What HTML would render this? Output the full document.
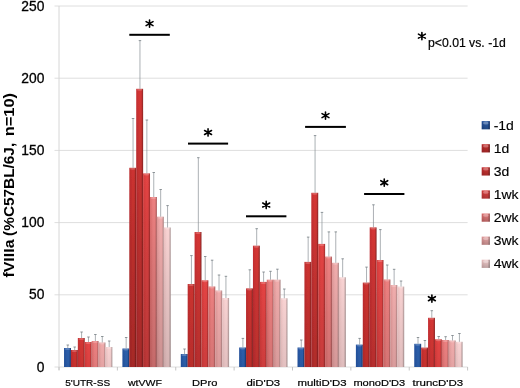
<!DOCTYPE html><html><head><meta charset="utf-8"><title>chart</title>
<style>html,body{margin:0;padding:0;background:#fff;}svg{display:block;font-family:"Liberation Sans",sans-serif;}</style></head><body>
<svg width="520" height="388" viewBox="0 0 520 388">
<defs>
<linearGradient id="gb" x1="0" y1="0" x2="1" y2="0"><stop offset="0" stop-color="#22509c"/><stop offset="0.45" stop-color="#2c5eaa"/><stop offset="0.72" stop-color="#2c5eaa"/><stop offset="1" stop-color="#15346c"/></linearGradient>
<linearGradient id="gr1" x1="0" y1="0" x2="1" y2="0"><stop offset="0" stop-color="#bc2c2e"/><stop offset="0.45" stop-color="#cc3230"/><stop offset="0.72" stop-color="#cc3230"/><stop offset="1" stop-color="#80201e"/></linearGradient>
<linearGradient id="gr2" x1="0" y1="0" x2="1" y2="0"><stop offset="0" stop-color="#c42e32"/><stop offset="0.45" stop-color="#d43634"/><stop offset="0.72" stop-color="#d43634"/><stop offset="1" stop-color="#8a2424"/></linearGradient>
<linearGradient id="gr3" x1="0" y1="0" x2="1" y2="0"><stop offset="0" stop-color="#d43a3a"/><stop offset="0.45" stop-color="#e44444"/><stop offset="0.72" stop-color="#e44444"/><stop offset="1" stop-color="#9c2c2c"/></linearGradient>
<linearGradient id="gr4" x1="0" y1="0" x2="1" y2="0"><stop offset="0" stop-color="#dc6c6c"/><stop offset="0.45" stop-color="#ec8080"/><stop offset="0.72" stop-color="#ec8080"/><stop offset="1" stop-color="#a45858"/></linearGradient>
<linearGradient id="gr5" x1="0" y1="0" x2="1" y2="0"><stop offset="0" stop-color="#e09898"/><stop offset="0.45" stop-color="#f0acac"/><stop offset="0.72" stop-color="#f0acac"/><stop offset="1" stop-color="#a88080"/></linearGradient>
<linearGradient id="gr6" x1="0" y1="0" x2="1" y2="0"><stop offset="0" stop-color="#ecc2c2"/><stop offset="0.45" stop-color="#f8d2d2"/><stop offset="0.72" stop-color="#f8d2d2"/><stop offset="1" stop-color="#a89292"/></linearGradient>
<linearGradient id="ov" x1="0" y1="0" x2="0" y2="1"><stop offset="0" stop-color="#000" stop-opacity="0"/><stop offset="0.4" stop-color="#000" stop-opacity="0.09"/><stop offset="1" stop-color="#000" stop-opacity="0.21"/></linearGradient>
<linearGradient id="ov2" x1="0" y1="0" x2="0" y2="1"><stop offset="0" stop-color="#000" stop-opacity="0.04"/><stop offset="1" stop-color="#000" stop-opacity="0.24"/></linearGradient>
<filter id="bl" x="-5%" y="-5%" width="110%" height="110%"><feGaussianBlur stdDeviation="0.35"/></filter>
</defs>
<rect width="520" height="388" fill="#fff"/>
<g filter="url(#bl)">
<line x1="54.5" y1="367.00" x2="467.6" y2="367.00" stroke="#dedede" stroke-width="1"/>
<line x1="54.5" y1="294.80" x2="467.6" y2="294.80" stroke="#dedede" stroke-width="1"/>
<line x1="54.5" y1="222.60" x2="467.6" y2="222.60" stroke="#dedede" stroke-width="1"/>
<line x1="54.5" y1="150.40" x2="467.6" y2="150.40" stroke="#dedede" stroke-width="1"/>
<line x1="54.5" y1="78.20" x2="467.6" y2="78.20" stroke="#dedede" stroke-width="1"/>
<line x1="54.5" y1="6.00" x2="467.6" y2="6.00" stroke="#dedede" stroke-width="1"/>
<line x1="59.0" y1="6.0" x2="59.0" y2="370.0" stroke="#d6d6d6" stroke-width="1"/>
<line x1="59.00" y1="367.0" x2="59.00" y2="370.5" stroke="#c4c4c4" stroke-width="1"/>
<line x1="117.37" y1="367.0" x2="117.37" y2="370.5" stroke="#c4c4c4" stroke-width="1"/>
<line x1="175.74" y1="367.0" x2="175.74" y2="370.5" stroke="#c4c4c4" stroke-width="1"/>
<line x1="234.11" y1="367.0" x2="234.11" y2="370.5" stroke="#c4c4c4" stroke-width="1"/>
<line x1="292.49" y1="367.0" x2="292.49" y2="370.5" stroke="#c4c4c4" stroke-width="1"/>
<line x1="350.86" y1="367.0" x2="350.86" y2="370.5" stroke="#c4c4c4" stroke-width="1"/>
<line x1="409.23" y1="367.0" x2="409.23" y2="370.5" stroke="#c4c4c4" stroke-width="1"/>
<line x1="467.60" y1="367.0" x2="467.60" y2="370.5" stroke="#c4c4c4" stroke-width="1"/>
<rect x="64.04" y="348.00" width="6.9" height="19.00" fill="url(#gb)"/>
<linearGradient id="o00" x1="0" y1="0" x2="0" y2="1"><stop offset="0" stop-color="#000" stop-opacity="0"/><stop offset="0.4" stop-color="#000" stop-opacity="0.021"/><stop offset="1" stop-color="#000" stop-opacity="0.046"/></linearGradient>
<rect x="64.04" y="348.00" width="6.9" height="19.00" fill="url(#o00)"/>
<ellipse cx="67.49" cy="349.00" rx="2.85" ry="1.0" fill="#fff" fill-opacity="0.22"/>
<rect x="70.94" y="350.00" width="6.9" height="17.00" fill="url(#gr1)"/>
<linearGradient id="o01" x1="0" y1="0" x2="0" y2="1"><stop offset="0" stop-color="#000" stop-opacity="0"/><stop offset="0.4" stop-color="#000" stop-opacity="0.020"/><stop offset="1" stop-color="#000" stop-opacity="0.044"/></linearGradient>
<rect x="70.94" y="350.00" width="6.9" height="17.00" fill="url(#o01)"/>
<ellipse cx="74.39" cy="351.00" rx="2.85" ry="1.0" fill="#fff" fill-opacity="0.22"/>
<rect x="77.84" y="338.00" width="6.9" height="29.00" fill="url(#gr2)"/>
<linearGradient id="o02" x1="0" y1="0" x2="0" y2="1"><stop offset="0" stop-color="#000" stop-opacity="0"/><stop offset="0.4" stop-color="#000" stop-opacity="0.024"/><stop offset="1" stop-color="#000" stop-opacity="0.054"/></linearGradient>
<rect x="77.84" y="338.00" width="6.9" height="29.00" fill="url(#o02)"/>
<ellipse cx="81.29" cy="339.00" rx="2.85" ry="1.0" fill="#fff" fill-opacity="0.22"/>
<rect x="84.74" y="342.00" width="6.9" height="25.00" fill="url(#gr3)"/>
<linearGradient id="o03" x1="0" y1="0" x2="0" y2="1"><stop offset="0" stop-color="#000" stop-opacity="0"/><stop offset="0.4" stop-color="#000" stop-opacity="0.023"/><stop offset="1" stop-color="#000" stop-opacity="0.051"/></linearGradient>
<rect x="84.74" y="342.00" width="6.9" height="25.00" fill="url(#o03)"/>
<ellipse cx="88.19" cy="343.00" rx="2.85" ry="1.0" fill="#fff" fill-opacity="0.22"/>
<rect x="91.64" y="341.00" width="6.9" height="26.00" fill="url(#gr4)"/>
<linearGradient id="o04" x1="0" y1="0" x2="0" y2="1"><stop offset="0" stop-color="#000" stop-opacity="0"/><stop offset="0.4" stop-color="#000" stop-opacity="0.023"/><stop offset="1" stop-color="#000" stop-opacity="0.051"/></linearGradient>
<rect x="91.64" y="341.00" width="6.9" height="26.00" fill="url(#o04)"/>
<ellipse cx="95.09" cy="342.00" rx="2.85" ry="1.0" fill="#fff" fill-opacity="0.22"/>
<rect x="98.54" y="342.50" width="6.9" height="24.50" fill="url(#gr5)"/>
<linearGradient id="o05" x1="0" y1="0" x2="0" y2="1"><stop offset="0" stop-color="#000" stop-opacity="0"/><stop offset="0.4" stop-color="#000" stop-opacity="0.023"/><stop offset="1" stop-color="#000" stop-opacity="0.050"/></linearGradient>
<rect x="98.54" y="342.50" width="6.9" height="24.50" fill="url(#o05)"/>
<ellipse cx="101.99" cy="343.50" rx="2.85" ry="1.0" fill="#fff" fill-opacity="0.22"/>
<rect x="105.44" y="347.00" width="6.9" height="20.00" fill="url(#gr6)"/>
<linearGradient id="o06" x1="0" y1="0" x2="0" y2="1"><stop offset="0" stop-color="#000" stop-opacity="0"/><stop offset="0.4" stop-color="#000" stop-opacity="0.021"/><stop offset="1" stop-color="#000" stop-opacity="0.047"/></linearGradient>
<rect x="105.44" y="347.00" width="6.9" height="20.00" fill="url(#o06)"/>
<ellipse cx="108.89" cy="348.00" rx="2.85" ry="1.0" fill="#fff" fill-opacity="0.22"/>
<path d="M67.79 348.00V345.00" stroke="#7e878d" stroke-width="0.65" fill="none"/><path d="M66.54 345.00H69.04" stroke="#6e777c" stroke-width="0.75" fill="none"/>
<path d="M74.69 350.00V347.00" stroke="#7e878d" stroke-width="0.65" fill="none"/><path d="M73.44 347.00H75.94" stroke="#6e777c" stroke-width="0.75" fill="none"/>
<path d="M81.59 338.00V332.00" stroke="#7e878d" stroke-width="0.65" fill="none"/><path d="M80.34 332.00H82.84" stroke="#6e777c" stroke-width="0.75" fill="none"/>
<path d="M88.49 342.00V337.00" stroke="#7e878d" stroke-width="0.65" fill="none"/><path d="M87.24 337.00H89.74" stroke="#6e777c" stroke-width="0.75" fill="none"/>
<path d="M95.39 341.00V334.50" stroke="#7e878d" stroke-width="0.65" fill="none"/><path d="M94.14 334.50H96.64" stroke="#6e777c" stroke-width="0.75" fill="none"/>
<path d="M102.29 342.50V336.50" stroke="#7e878d" stroke-width="0.65" fill="none"/><path d="M101.04 336.50H103.54" stroke="#6e777c" stroke-width="0.75" fill="none"/>
<path d="M109.19 347.00V341.00" stroke="#7e878d" stroke-width="0.65" fill="none"/><path d="M107.94 341.00H110.44" stroke="#6e777c" stroke-width="0.75" fill="none"/>
<rect x="122.41" y="348.50" width="6.9" height="18.50" fill="url(#gb)"/>
<linearGradient id="o10" x1="0" y1="0" x2="0" y2="1"><stop offset="0" stop-color="#000" stop-opacity="0"/><stop offset="0.4" stop-color="#000" stop-opacity="0.020"/><stop offset="1" stop-color="#000" stop-opacity="0.045"/></linearGradient>
<rect x="122.41" y="348.50" width="6.9" height="18.50" fill="url(#o10)"/>
<ellipse cx="125.86" cy="349.50" rx="2.85" ry="1.0" fill="#fff" fill-opacity="0.22"/>
<rect x="129.31" y="167.80" width="6.9" height="199.20" fill="url(#gr1)"/>
<linearGradient id="o11" x1="0" y1="0" x2="0" y2="1"><stop offset="0" stop-color="#000" stop-opacity="0"/><stop offset="0.4" stop-color="#000" stop-opacity="0.088"/><stop offset="1" stop-color="#000" stop-opacity="0.195"/></linearGradient>
<rect x="129.31" y="167.80" width="6.9" height="199.20" fill="url(#o11)"/>
<ellipse cx="132.76" cy="168.80" rx="2.85" ry="1.0" fill="#fff" fill-opacity="0.22"/>
<rect x="136.21" y="88.80" width="6.9" height="278.20" fill="url(#gr2)"/>
<linearGradient id="o12" x1="0" y1="0" x2="0" y2="1"><stop offset="0" stop-color="#000" stop-opacity="0"/><stop offset="0.4" stop-color="#000" stop-opacity="0.099"/><stop offset="1" stop-color="#000" stop-opacity="0.220"/></linearGradient>
<rect x="136.21" y="88.80" width="6.9" height="278.20" fill="url(#o12)"/>
<ellipse cx="139.66" cy="89.80" rx="2.85" ry="1.0" fill="#fff" fill-opacity="0.22"/>
<rect x="143.11" y="173.40" width="6.9" height="193.60" fill="url(#gr3)"/>
<linearGradient id="o13" x1="0" y1="0" x2="0" y2="1"><stop offset="0" stop-color="#000" stop-opacity="0"/><stop offset="0.4" stop-color="#000" stop-opacity="0.085"/><stop offset="1" stop-color="#000" stop-opacity="0.190"/></linearGradient>
<rect x="143.11" y="173.40" width="6.9" height="193.60" fill="url(#o13)"/>
<ellipse cx="146.56" cy="174.40" rx="2.85" ry="1.0" fill="#fff" fill-opacity="0.22"/>
<rect x="150.01" y="197.00" width="6.9" height="170.00" fill="url(#gr4)"/>
<linearGradient id="o14" x1="0" y1="0" x2="0" y2="1"><stop offset="0" stop-color="#000" stop-opacity="0"/><stop offset="0.4" stop-color="#000" stop-opacity="0.077"/><stop offset="1" stop-color="#000" stop-opacity="0.170"/></linearGradient>
<rect x="150.01" y="197.00" width="6.9" height="170.00" fill="url(#o14)"/>
<ellipse cx="153.46" cy="198.00" rx="2.85" ry="1.0" fill="#fff" fill-opacity="0.22"/>
<rect x="156.91" y="216.70" width="6.9" height="150.30" fill="url(#gr5)"/>
<linearGradient id="o15" x1="0" y1="0" x2="0" y2="1"><stop offset="0" stop-color="#000" stop-opacity="0"/><stop offset="0.4" stop-color="#000" stop-opacity="0.069"/><stop offset="1" stop-color="#000" stop-opacity="0.154"/></linearGradient>
<rect x="156.91" y="216.70" width="6.9" height="150.30" fill="url(#o15)"/>
<ellipse cx="160.36" cy="217.70" rx="2.85" ry="1.0" fill="#fff" fill-opacity="0.22"/>
<rect x="163.81" y="227.50" width="6.9" height="139.50" fill="url(#gr6)"/>
<linearGradient id="o16" x1="0" y1="0" x2="0" y2="1"><stop offset="0" stop-color="#000" stop-opacity="0"/><stop offset="0.4" stop-color="#000" stop-opacity="0.065"/><stop offset="1" stop-color="#000" stop-opacity="0.145"/></linearGradient>
<rect x="163.81" y="227.50" width="6.9" height="139.50" fill="url(#o16)"/>
<ellipse cx="167.26" cy="228.50" rx="2.85" ry="1.0" fill="#fff" fill-opacity="0.22"/>
<path d="M126.16 348.50V337.50" stroke="#7e878d" stroke-width="0.65" fill="none"/><path d="M124.91 337.50H127.41" stroke="#6e777c" stroke-width="0.75" fill="none"/>
<path d="M133.06 167.80V118.50" stroke="#7e878d" stroke-width="0.65" fill="none"/><path d="M131.81 118.50H134.31" stroke="#6e777c" stroke-width="0.75" fill="none"/>
<path d="M139.96 88.80V40.60" stroke="#7e878d" stroke-width="0.65" fill="none"/><path d="M138.71 40.60H141.21" stroke="#6e777c" stroke-width="0.75" fill="none"/>
<path d="M146.86 173.40V120.00" stroke="#7e878d" stroke-width="0.65" fill="none"/><path d="M145.61 120.00H148.11" stroke="#6e777c" stroke-width="0.75" fill="none"/>
<path d="M153.76 197.00V172.50" stroke="#7e878d" stroke-width="0.65" fill="none"/><path d="M152.51 172.50H155.01" stroke="#6e777c" stroke-width="0.75" fill="none"/>
<path d="M160.66 216.70V189.50" stroke="#7e878d" stroke-width="0.65" fill="none"/><path d="M159.41 189.50H161.91" stroke="#6e777c" stroke-width="0.75" fill="none"/>
<path d="M167.56 227.50V205.60" stroke="#7e878d" stroke-width="0.65" fill="none"/><path d="M166.31 205.60H168.81" stroke="#6e777c" stroke-width="0.75" fill="none"/>
<rect x="180.78" y="354.00" width="6.9" height="13.00" fill="url(#gb)"/>
<linearGradient id="o20" x1="0" y1="0" x2="0" y2="1"><stop offset="0" stop-color="#000" stop-opacity="0"/><stop offset="0.4" stop-color="#000" stop-opacity="0.018"/><stop offset="1" stop-color="#000" stop-opacity="0.041"/></linearGradient>
<rect x="180.78" y="354.00" width="6.9" height="13.00" fill="url(#o20)"/>
<ellipse cx="184.23" cy="355.00" rx="2.85" ry="1.0" fill="#fff" fill-opacity="0.22"/>
<rect x="187.68" y="284.00" width="6.9" height="83.00" fill="url(#gr1)"/>
<linearGradient id="o21" x1="0" y1="0" x2="0" y2="1"><stop offset="0" stop-color="#000" stop-opacity="0"/><stop offset="0.4" stop-color="#000" stop-opacity="0.044"/><stop offset="1" stop-color="#000" stop-opacity="0.099"/></linearGradient>
<rect x="187.68" y="284.00" width="6.9" height="83.00" fill="url(#o21)"/>
<ellipse cx="191.13" cy="285.00" rx="2.85" ry="1.0" fill="#fff" fill-opacity="0.22"/>
<rect x="194.58" y="232.00" width="6.9" height="135.00" fill="url(#gr2)"/>
<linearGradient id="o22" x1="0" y1="0" x2="0" y2="1"><stop offset="0" stop-color="#000" stop-opacity="0"/><stop offset="0.4" stop-color="#000" stop-opacity="0.064"/><stop offset="1" stop-color="#000" stop-opacity="0.142"/></linearGradient>
<rect x="194.58" y="232.00" width="6.9" height="135.00" fill="url(#o22)"/>
<ellipse cx="198.03" cy="233.00" rx="2.85" ry="1.0" fill="#fff" fill-opacity="0.22"/>
<rect x="201.48" y="280.30" width="6.9" height="86.70" fill="url(#gr3)"/>
<linearGradient id="o23" x1="0" y1="0" x2="0" y2="1"><stop offset="0" stop-color="#000" stop-opacity="0"/><stop offset="0.4" stop-color="#000" stop-opacity="0.046"/><stop offset="1" stop-color="#000" stop-opacity="0.102"/></linearGradient>
<rect x="201.48" y="280.30" width="6.9" height="86.70" fill="url(#o23)"/>
<ellipse cx="204.93" cy="281.30" rx="2.85" ry="1.0" fill="#fff" fill-opacity="0.22"/>
<rect x="208.38" y="286.50" width="6.9" height="80.50" fill="url(#gr4)"/>
<linearGradient id="o24" x1="0" y1="0" x2="0" y2="1"><stop offset="0" stop-color="#000" stop-opacity="0"/><stop offset="0.4" stop-color="#000" stop-opacity="0.043"/><stop offset="1" stop-color="#000" stop-opacity="0.096"/></linearGradient>
<rect x="208.38" y="286.50" width="6.9" height="80.50" fill="url(#o24)"/>
<ellipse cx="211.83" cy="287.50" rx="2.85" ry="1.0" fill="#fff" fill-opacity="0.22"/>
<rect x="215.28" y="290.50" width="6.9" height="76.50" fill="url(#gr5)"/>
<linearGradient id="o25" x1="0" y1="0" x2="0" y2="1"><stop offset="0" stop-color="#000" stop-opacity="0"/><stop offset="0.4" stop-color="#000" stop-opacity="0.042"/><stop offset="1" stop-color="#000" stop-opacity="0.093"/></linearGradient>
<rect x="215.28" y="290.50" width="6.9" height="76.50" fill="url(#o25)"/>
<ellipse cx="218.73" cy="291.50" rx="2.85" ry="1.0" fill="#fff" fill-opacity="0.22"/>
<rect x="222.18" y="298.00" width="6.9" height="69.00" fill="url(#gr6)"/>
<linearGradient id="o26" x1="0" y1="0" x2="0" y2="1"><stop offset="0" stop-color="#000" stop-opacity="0"/><stop offset="0.4" stop-color="#000" stop-opacity="0.039"/><stop offset="1" stop-color="#000" stop-opacity="0.087"/></linearGradient>
<rect x="222.18" y="298.00" width="6.9" height="69.00" fill="url(#o26)"/>
<ellipse cx="225.63" cy="299.00" rx="2.85" ry="1.0" fill="#fff" fill-opacity="0.22"/>
<path d="M184.53 354.00V349.00" stroke="#7e878d" stroke-width="0.65" fill="none"/><path d="M183.28 349.00H185.78" stroke="#6e777c" stroke-width="0.75" fill="none"/>
<path d="M191.43 284.00V255.60" stroke="#7e878d" stroke-width="0.65" fill="none"/><path d="M190.18 255.60H192.68" stroke="#6e777c" stroke-width="0.75" fill="none"/>
<path d="M198.33 232.00V157.70" stroke="#7e878d" stroke-width="0.65" fill="none"/><path d="M197.08 157.70H199.58" stroke="#6e777c" stroke-width="0.75" fill="none"/>
<path d="M205.23 280.30V256.50" stroke="#7e878d" stroke-width="0.65" fill="none"/><path d="M203.98 256.50H206.48" stroke="#6e777c" stroke-width="0.75" fill="none"/>
<path d="M212.13 286.50V260.20" stroke="#7e878d" stroke-width="0.65" fill="none"/><path d="M210.88 260.20H213.38" stroke="#6e777c" stroke-width="0.75" fill="none"/>
<path d="M219.03 290.50V275.00" stroke="#7e878d" stroke-width="0.65" fill="none"/><path d="M217.78 275.00H220.28" stroke="#6e777c" stroke-width="0.75" fill="none"/>
<path d="M225.93 298.00V276.30" stroke="#7e878d" stroke-width="0.65" fill="none"/><path d="M224.68 276.30H227.18" stroke="#6e777c" stroke-width="0.75" fill="none"/>
<rect x="239.15" y="347.50" width="6.9" height="19.50" fill="url(#gb)"/>
<linearGradient id="o30" x1="0" y1="0" x2="0" y2="1"><stop offset="0" stop-color="#000" stop-opacity="0"/><stop offset="0.4" stop-color="#000" stop-opacity="0.021"/><stop offset="1" stop-color="#000" stop-opacity="0.046"/></linearGradient>
<rect x="239.15" y="347.50" width="6.9" height="19.50" fill="url(#o30)"/>
<ellipse cx="242.60" cy="348.50" rx="2.85" ry="1.0" fill="#fff" fill-opacity="0.22"/>
<rect x="246.05" y="288.40" width="6.9" height="78.60" fill="url(#gr1)"/>
<linearGradient id="o31" x1="0" y1="0" x2="0" y2="1"><stop offset="0" stop-color="#000" stop-opacity="0"/><stop offset="0.4" stop-color="#000" stop-opacity="0.043"/><stop offset="1" stop-color="#000" stop-opacity="0.095"/></linearGradient>
<rect x="246.05" y="288.40" width="6.9" height="78.60" fill="url(#o31)"/>
<ellipse cx="249.50" cy="289.40" rx="2.85" ry="1.0" fill="#fff" fill-opacity="0.22"/>
<rect x="252.95" y="245.70" width="6.9" height="121.30" fill="url(#gr2)"/>
<linearGradient id="o32" x1="0" y1="0" x2="0" y2="1"><stop offset="0" stop-color="#000" stop-opacity="0"/><stop offset="0.4" stop-color="#000" stop-opacity="0.059"/><stop offset="1" stop-color="#000" stop-opacity="0.130"/></linearGradient>
<rect x="252.95" y="245.70" width="6.9" height="121.30" fill="url(#o32)"/>
<ellipse cx="256.40" cy="246.70" rx="2.85" ry="1.0" fill="#fff" fill-opacity="0.22"/>
<rect x="259.85" y="281.90" width="6.9" height="85.10" fill="url(#gr3)"/>
<linearGradient id="o33" x1="0" y1="0" x2="0" y2="1"><stop offset="0" stop-color="#000" stop-opacity="0"/><stop offset="0.4" stop-color="#000" stop-opacity="0.045"/><stop offset="1" stop-color="#000" stop-opacity="0.100"/></linearGradient>
<rect x="259.85" y="281.90" width="6.9" height="85.10" fill="url(#o33)"/>
<ellipse cx="263.30" cy="282.90" rx="2.85" ry="1.0" fill="#fff" fill-opacity="0.22"/>
<rect x="266.75" y="279.70" width="6.9" height="87.30" fill="url(#gr4)"/>
<linearGradient id="o34" x1="0" y1="0" x2="0" y2="1"><stop offset="0" stop-color="#000" stop-opacity="0"/><stop offset="0.4" stop-color="#000" stop-opacity="0.046"/><stop offset="1" stop-color="#000" stop-opacity="0.102"/></linearGradient>
<rect x="266.75" y="279.70" width="6.9" height="87.30" fill="url(#o34)"/>
<ellipse cx="270.20" cy="280.70" rx="2.85" ry="1.0" fill="#fff" fill-opacity="0.22"/>
<rect x="273.65" y="279.70" width="6.9" height="87.30" fill="url(#gr5)"/>
<linearGradient id="o35" x1="0" y1="0" x2="0" y2="1"><stop offset="0" stop-color="#000" stop-opacity="0"/><stop offset="0.4" stop-color="#000" stop-opacity="0.046"/><stop offset="1" stop-color="#000" stop-opacity="0.102"/></linearGradient>
<rect x="273.65" y="279.70" width="6.9" height="87.30" fill="url(#o35)"/>
<ellipse cx="277.10" cy="280.70" rx="2.85" ry="1.0" fill="#fff" fill-opacity="0.22"/>
<rect x="280.55" y="298.30" width="6.9" height="68.70" fill="url(#gr6)"/>
<linearGradient id="o36" x1="0" y1="0" x2="0" y2="1"><stop offset="0" stop-color="#000" stop-opacity="0"/><stop offset="0.4" stop-color="#000" stop-opacity="0.039"/><stop offset="1" stop-color="#000" stop-opacity="0.087"/></linearGradient>
<rect x="280.55" y="298.30" width="6.9" height="68.70" fill="url(#o36)"/>
<ellipse cx="284.00" cy="299.30" rx="2.85" ry="1.0" fill="#fff" fill-opacity="0.22"/>
<path d="M242.90 347.50V338.40" stroke="#7e878d" stroke-width="0.65" fill="none"/><path d="M241.65 338.40H244.15" stroke="#6e777c" stroke-width="0.75" fill="none"/>
<path d="M249.80 288.40V269.80" stroke="#7e878d" stroke-width="0.65" fill="none"/><path d="M248.55 269.80H251.05" stroke="#6e777c" stroke-width="0.75" fill="none"/>
<path d="M256.70 245.70V228.70" stroke="#7e878d" stroke-width="0.65" fill="none"/><path d="M255.45 228.70H257.95" stroke="#6e777c" stroke-width="0.75" fill="none"/>
<path d="M263.60 281.90V272.00" stroke="#7e878d" stroke-width="0.65" fill="none"/><path d="M262.35 272.00H264.85" stroke="#6e777c" stroke-width="0.75" fill="none"/>
<path d="M270.50 279.70V271.30" stroke="#7e878d" stroke-width="0.65" fill="none"/><path d="M269.25 271.30H271.75" stroke="#6e777c" stroke-width="0.75" fill="none"/>
<path d="M277.40 279.70V269.20" stroke="#7e878d" stroke-width="0.65" fill="none"/><path d="M276.15 269.20H278.65" stroke="#6e777c" stroke-width="0.75" fill="none"/>
<path d="M284.30 298.30V289.00" stroke="#7e878d" stroke-width="0.65" fill="none"/><path d="M283.05 289.00H285.55" stroke="#6e777c" stroke-width="0.75" fill="none"/>
<rect x="297.52" y="347.50" width="6.9" height="19.50" fill="url(#gb)"/>
<linearGradient id="o40" x1="0" y1="0" x2="0" y2="1"><stop offset="0" stop-color="#000" stop-opacity="0"/><stop offset="0.4" stop-color="#000" stop-opacity="0.021"/><stop offset="1" stop-color="#000" stop-opacity="0.046"/></linearGradient>
<rect x="297.52" y="347.50" width="6.9" height="19.50" fill="url(#o40)"/>
<ellipse cx="300.97" cy="348.50" rx="2.85" ry="1.0" fill="#fff" fill-opacity="0.22"/>
<rect x="304.42" y="261.90" width="6.9" height="105.10" fill="url(#gr1)"/>
<linearGradient id="o41" x1="0" y1="0" x2="0" y2="1"><stop offset="0" stop-color="#000" stop-opacity="0"/><stop offset="0.4" stop-color="#000" stop-opacity="0.053"/><stop offset="1" stop-color="#000" stop-opacity="0.117"/></linearGradient>
<rect x="304.42" y="261.90" width="6.9" height="105.10" fill="url(#o41)"/>
<ellipse cx="307.87" cy="262.90" rx="2.85" ry="1.0" fill="#fff" fill-opacity="0.22"/>
<rect x="311.32" y="192.80" width="6.9" height="174.20" fill="url(#gr2)"/>
<linearGradient id="o42" x1="0" y1="0" x2="0" y2="1"><stop offset="0" stop-color="#000" stop-opacity="0"/><stop offset="0.4" stop-color="#000" stop-opacity="0.078"/><stop offset="1" stop-color="#000" stop-opacity="0.174"/></linearGradient>
<rect x="311.32" y="192.80" width="6.9" height="174.20" fill="url(#o42)"/>
<ellipse cx="314.77" cy="193.80" rx="2.85" ry="1.0" fill="#fff" fill-opacity="0.22"/>
<rect x="318.22" y="243.90" width="6.9" height="123.10" fill="url(#gr3)"/>
<linearGradient id="o43" x1="0" y1="0" x2="0" y2="1"><stop offset="0" stop-color="#000" stop-opacity="0"/><stop offset="0.4" stop-color="#000" stop-opacity="0.059"/><stop offset="1" stop-color="#000" stop-opacity="0.132"/></linearGradient>
<rect x="318.22" y="243.90" width="6.9" height="123.10" fill="url(#o43)"/>
<ellipse cx="321.67" cy="244.90" rx="2.85" ry="1.0" fill="#fff" fill-opacity="0.22"/>
<rect x="325.12" y="256.60" width="6.9" height="110.40" fill="url(#gr4)"/>
<linearGradient id="o44" x1="0" y1="0" x2="0" y2="1"><stop offset="0" stop-color="#000" stop-opacity="0"/><stop offset="0.4" stop-color="#000" stop-opacity="0.055"/><stop offset="1" stop-color="#000" stop-opacity="0.121"/></linearGradient>
<rect x="325.12" y="256.60" width="6.9" height="110.40" fill="url(#o44)"/>
<ellipse cx="328.57" cy="257.60" rx="2.85" ry="1.0" fill="#fff" fill-opacity="0.22"/>
<rect x="332.02" y="262.80" width="6.9" height="104.20" fill="url(#gr5)"/>
<linearGradient id="o45" x1="0" y1="0" x2="0" y2="1"><stop offset="0" stop-color="#000" stop-opacity="0"/><stop offset="0.4" stop-color="#000" stop-opacity="0.052"/><stop offset="1" stop-color="#000" stop-opacity="0.116"/></linearGradient>
<rect x="332.02" y="262.80" width="6.9" height="104.20" fill="url(#o45)"/>
<ellipse cx="335.47" cy="263.80" rx="2.85" ry="1.0" fill="#fff" fill-opacity="0.22"/>
<rect x="338.92" y="277.30" width="6.9" height="89.70" fill="url(#gr6)"/>
<linearGradient id="o46" x1="0" y1="0" x2="0" y2="1"><stop offset="0" stop-color="#000" stop-opacity="0"/><stop offset="0.4" stop-color="#000" stop-opacity="0.047"/><stop offset="1" stop-color="#000" stop-opacity="0.104"/></linearGradient>
<rect x="338.92" y="277.30" width="6.9" height="89.70" fill="url(#o46)"/>
<ellipse cx="342.37" cy="278.30" rx="2.85" ry="1.0" fill="#fff" fill-opacity="0.22"/>
<path d="M301.27 347.50V340.00" stroke="#7e878d" stroke-width="0.65" fill="none"/><path d="M300.02 340.00H302.52" stroke="#6e777c" stroke-width="0.75" fill="none"/>
<path d="M308.17 261.90V237.10" stroke="#7e878d" stroke-width="0.65" fill="none"/><path d="M306.92 237.10H309.42" stroke="#6e777c" stroke-width="0.75" fill="none"/>
<path d="M315.07 192.80V135.60" stroke="#7e878d" stroke-width="0.65" fill="none"/><path d="M313.82 135.60H316.32" stroke="#6e777c" stroke-width="0.75" fill="none"/>
<path d="M321.97 243.90V212.40" stroke="#7e878d" stroke-width="0.65" fill="none"/><path d="M320.72 212.40H323.22" stroke="#6e777c" stroke-width="0.75" fill="none"/>
<path d="M328.87 256.60V231.90" stroke="#7e878d" stroke-width="0.65" fill="none"/><path d="M327.62 231.90H330.12" stroke="#6e777c" stroke-width="0.75" fill="none"/>
<path d="M335.77 262.80V231.90" stroke="#7e878d" stroke-width="0.65" fill="none"/><path d="M334.52 231.90H337.02" stroke="#6e777c" stroke-width="0.75" fill="none"/>
<path d="M342.67 277.30V258.80" stroke="#7e878d" stroke-width="0.65" fill="none"/><path d="M341.42 258.80H343.92" stroke="#6e777c" stroke-width="0.75" fill="none"/>
<rect x="355.89" y="344.60" width="6.9" height="22.40" fill="url(#gb)"/>
<linearGradient id="o50" x1="0" y1="0" x2="0" y2="1"><stop offset="0" stop-color="#000" stop-opacity="0"/><stop offset="0.4" stop-color="#000" stop-opacity="0.022"/><stop offset="1" stop-color="#000" stop-opacity="0.049"/></linearGradient>
<rect x="355.89" y="344.60" width="6.9" height="22.40" fill="url(#o50)"/>
<ellipse cx="359.34" cy="345.60" rx="2.85" ry="1.0" fill="#fff" fill-opacity="0.22"/>
<rect x="362.79" y="282.60" width="6.9" height="84.40" fill="url(#gr1)"/>
<linearGradient id="o51" x1="0" y1="0" x2="0" y2="1"><stop offset="0" stop-color="#000" stop-opacity="0"/><stop offset="0.4" stop-color="#000" stop-opacity="0.045"/><stop offset="1" stop-color="#000" stop-opacity="0.100"/></linearGradient>
<rect x="362.79" y="282.60" width="6.9" height="84.40" fill="url(#o51)"/>
<ellipse cx="366.24" cy="283.60" rx="2.85" ry="1.0" fill="#fff" fill-opacity="0.22"/>
<rect x="369.69" y="227.40" width="6.9" height="139.60" fill="url(#gr2)"/>
<linearGradient id="o52" x1="0" y1="0" x2="0" y2="1"><stop offset="0" stop-color="#000" stop-opacity="0"/><stop offset="0.4" stop-color="#000" stop-opacity="0.065"/><stop offset="1" stop-color="#000" stop-opacity="0.145"/></linearGradient>
<rect x="369.69" y="227.40" width="6.9" height="139.60" fill="url(#o52)"/>
<ellipse cx="373.14" cy="228.40" rx="2.85" ry="1.0" fill="#fff" fill-opacity="0.22"/>
<rect x="376.59" y="260.00" width="6.9" height="107.00" fill="url(#gr3)"/>
<linearGradient id="o53" x1="0" y1="0" x2="0" y2="1"><stop offset="0" stop-color="#000" stop-opacity="0"/><stop offset="0.4" stop-color="#000" stop-opacity="0.053"/><stop offset="1" stop-color="#000" stop-opacity="0.118"/></linearGradient>
<rect x="376.59" y="260.00" width="6.9" height="107.00" fill="url(#o53)"/>
<ellipse cx="380.04" cy="261.00" rx="2.85" ry="1.0" fill="#fff" fill-opacity="0.22"/>
<rect x="383.49" y="279.50" width="6.9" height="87.50" fill="url(#gr4)"/>
<linearGradient id="o54" x1="0" y1="0" x2="0" y2="1"><stop offset="0" stop-color="#000" stop-opacity="0"/><stop offset="0.4" stop-color="#000" stop-opacity="0.046"/><stop offset="1" stop-color="#000" stop-opacity="0.102"/></linearGradient>
<rect x="383.49" y="279.50" width="6.9" height="87.50" fill="url(#o54)"/>
<ellipse cx="386.94" cy="280.50" rx="2.85" ry="1.0" fill="#fff" fill-opacity="0.22"/>
<rect x="390.39" y="285.00" width="6.9" height="82.00" fill="url(#gr5)"/>
<linearGradient id="o55" x1="0" y1="0" x2="0" y2="1"><stop offset="0" stop-color="#000" stop-opacity="0"/><stop offset="0.4" stop-color="#000" stop-opacity="0.044"/><stop offset="1" stop-color="#000" stop-opacity="0.098"/></linearGradient>
<rect x="390.39" y="285.00" width="6.9" height="82.00" fill="url(#o55)"/>
<ellipse cx="393.84" cy="286.00" rx="2.85" ry="1.0" fill="#fff" fill-opacity="0.22"/>
<rect x="397.29" y="286.60" width="6.9" height="80.40" fill="url(#gr6)"/>
<linearGradient id="o56" x1="0" y1="0" x2="0" y2="1"><stop offset="0" stop-color="#000" stop-opacity="0"/><stop offset="0.4" stop-color="#000" stop-opacity="0.043"/><stop offset="1" stop-color="#000" stop-opacity="0.096"/></linearGradient>
<rect x="397.29" y="286.60" width="6.9" height="80.40" fill="url(#o56)"/>
<ellipse cx="400.74" cy="287.60" rx="2.85" ry="1.0" fill="#fff" fill-opacity="0.22"/>
<path d="M359.64 344.60V338.40" stroke="#7e878d" stroke-width="0.65" fill="none"/><path d="M358.39 338.40H360.89" stroke="#6e777c" stroke-width="0.75" fill="none"/>
<path d="M366.54 282.60V267.10" stroke="#7e878d" stroke-width="0.65" fill="none"/><path d="M365.29 267.10H367.79" stroke="#6e777c" stroke-width="0.75" fill="none"/>
<path d="M373.44 227.40V204.80" stroke="#7e878d" stroke-width="0.65" fill="none"/><path d="M372.19 204.80H374.69" stroke="#6e777c" stroke-width="0.75" fill="none"/>
<path d="M380.34 260.00V229.60" stroke="#7e878d" stroke-width="0.65" fill="none"/><path d="M379.09 229.60H381.59" stroke="#6e777c" stroke-width="0.75" fill="none"/>
<path d="M387.24 279.50V265.00" stroke="#7e878d" stroke-width="0.65" fill="none"/><path d="M385.99 265.00H388.49" stroke="#6e777c" stroke-width="0.75" fill="none"/>
<path d="M394.14 285.00V269.30" stroke="#7e878d" stroke-width="0.65" fill="none"/><path d="M392.89 269.30H395.39" stroke="#6e777c" stroke-width="0.75" fill="none"/>
<path d="M401.04 286.60V281.00" stroke="#7e878d" stroke-width="0.65" fill="none"/><path d="M399.79 281.00H402.29" stroke="#6e777c" stroke-width="0.75" fill="none"/>
<rect x="414.26" y="343.80" width="6.9" height="23.20" fill="url(#gb)"/>
<linearGradient id="o60" x1="0" y1="0" x2="0" y2="1"><stop offset="0" stop-color="#000" stop-opacity="0"/><stop offset="0.4" stop-color="#000" stop-opacity="0.022"/><stop offset="1" stop-color="#000" stop-opacity="0.049"/></linearGradient>
<rect x="414.26" y="343.80" width="6.9" height="23.20" fill="url(#o60)"/>
<ellipse cx="417.71" cy="344.80" rx="2.85" ry="1.0" fill="#fff" fill-opacity="0.22"/>
<rect x="421.16" y="347.60" width="6.9" height="19.40" fill="url(#gr1)"/>
<linearGradient id="o61" x1="0" y1="0" x2="0" y2="1"><stop offset="0" stop-color="#000" stop-opacity="0"/><stop offset="0.4" stop-color="#000" stop-opacity="0.021"/><stop offset="1" stop-color="#000" stop-opacity="0.046"/></linearGradient>
<rect x="421.16" y="347.60" width="6.9" height="19.40" fill="url(#o61)"/>
<ellipse cx="424.61" cy="348.60" rx="2.85" ry="1.0" fill="#fff" fill-opacity="0.22"/>
<rect x="428.06" y="317.80" width="6.9" height="49.20" fill="url(#gr2)"/>
<linearGradient id="o62" x1="0" y1="0" x2="0" y2="1"><stop offset="0" stop-color="#000" stop-opacity="0"/><stop offset="0.4" stop-color="#000" stop-opacity="0.032"/><stop offset="1" stop-color="#000" stop-opacity="0.071"/></linearGradient>
<rect x="428.06" y="317.80" width="6.9" height="49.20" fill="url(#o62)"/>
<ellipse cx="431.51" cy="318.80" rx="2.85" ry="1.0" fill="#fff" fill-opacity="0.22"/>
<rect x="434.96" y="339.30" width="6.9" height="27.70" fill="url(#gr3)"/>
<linearGradient id="o63" x1="0" y1="0" x2="0" y2="1"><stop offset="0" stop-color="#000" stop-opacity="0"/><stop offset="0.4" stop-color="#000" stop-opacity="0.024"/><stop offset="1" stop-color="#000" stop-opacity="0.053"/></linearGradient>
<rect x="434.96" y="339.30" width="6.9" height="27.70" fill="url(#o63)"/>
<ellipse cx="438.41" cy="340.30" rx="2.85" ry="1.0" fill="#fff" fill-opacity="0.22"/>
<rect x="441.86" y="340.00" width="6.9" height="27.00" fill="url(#gr4)"/>
<linearGradient id="o64" x1="0" y1="0" x2="0" y2="1"><stop offset="0" stop-color="#000" stop-opacity="0"/><stop offset="0.4" stop-color="#000" stop-opacity="0.024"/><stop offset="1" stop-color="#000" stop-opacity="0.052"/></linearGradient>
<rect x="441.86" y="340.00" width="6.9" height="27.00" fill="url(#o64)"/>
<ellipse cx="445.31" cy="341.00" rx="2.85" ry="1.0" fill="#fff" fill-opacity="0.22"/>
<rect x="448.76" y="340.50" width="6.9" height="26.50" fill="url(#gr5)"/>
<linearGradient id="o65" x1="0" y1="0" x2="0" y2="1"><stop offset="0" stop-color="#000" stop-opacity="0"/><stop offset="0.4" stop-color="#000" stop-opacity="0.023"/><stop offset="1" stop-color="#000" stop-opacity="0.052"/></linearGradient>
<rect x="448.76" y="340.50" width="6.9" height="26.50" fill="url(#o65)"/>
<ellipse cx="452.21" cy="341.50" rx="2.85" ry="1.0" fill="#fff" fill-opacity="0.22"/>
<rect x="455.66" y="341.80" width="6.9" height="25.20" fill="url(#gr6)"/>
<linearGradient id="o66" x1="0" y1="0" x2="0" y2="1"><stop offset="0" stop-color="#000" stop-opacity="0"/><stop offset="0.4" stop-color="#000" stop-opacity="0.023"/><stop offset="1" stop-color="#000" stop-opacity="0.051"/></linearGradient>
<rect x="455.66" y="341.80" width="6.9" height="25.20" fill="url(#o66)"/>
<ellipse cx="459.11" cy="342.80" rx="2.85" ry="1.0" fill="#fff" fill-opacity="0.22"/>
<path d="M418.01 343.80V337.50" stroke="#7e878d" stroke-width="0.65" fill="none"/><path d="M416.76 337.50H419.26" stroke="#6e777c" stroke-width="0.75" fill="none"/>
<path d="M424.91 347.60V340.50" stroke="#7e878d" stroke-width="0.65" fill="none"/><path d="M423.66 340.50H426.16" stroke="#6e777c" stroke-width="0.75" fill="none"/>
<path d="M431.81 317.80V310.70" stroke="#7e878d" stroke-width="0.65" fill="none"/><path d="M430.56 310.70H433.06" stroke="#6e777c" stroke-width="0.75" fill="none"/>
<path d="M438.71 339.30V336.50" stroke="#7e878d" stroke-width="0.65" fill="none"/><path d="M437.46 336.50H439.96" stroke="#6e777c" stroke-width="0.75" fill="none"/>
<path d="M445.61 340.00V336.70" stroke="#7e878d" stroke-width="0.65" fill="none"/><path d="M444.36 336.70H446.86" stroke="#6e777c" stroke-width="0.75" fill="none"/>
<path d="M452.51 340.50V335.50" stroke="#7e878d" stroke-width="0.65" fill="none"/><path d="M451.26 335.50H453.76" stroke="#6e777c" stroke-width="0.75" fill="none"/>
<path d="M459.41 341.80V333.50" stroke="#7e878d" stroke-width="0.65" fill="none"/><path d="M458.16 333.50H460.66" stroke="#6e777c" stroke-width="0.75" fill="none"/>
<rect x="129.3" y="33.80" width="40.5" height="2.0" fill="#000"/>
<path d="M149.55 20.00L149.55 27.20M146.09 21.60L153.01 25.60M153.01 21.60L146.09 25.60" stroke="#000" stroke-width="1.6" stroke-linecap="round" fill="none"/><circle cx="149.55" cy="23.60" r="1.5" fill="#000"/>
<rect x="188" y="142.60" width="40.1" height="2.0" fill="#000"/>
<path d="M208.05 128.90L208.05 136.10M204.59 130.50L211.51 134.50M211.51 130.50L204.59 134.50" stroke="#000" stroke-width="1.6" stroke-linecap="round" fill="none"/><circle cx="208.05" cy="132.50" r="1.5" fill="#000"/>
<rect x="246" y="215.30" width="40.4" height="2.0" fill="#000"/>
<path d="M266.20 201.40L266.20 208.60M262.74 203.00L269.66 207.00M269.66 203.00L262.74 207.00" stroke="#000" stroke-width="1.6" stroke-linecap="round" fill="none"/><circle cx="266.20" cy="205.00" r="1.5" fill="#000"/>
<rect x="305.1" y="125.90" width="40.8" height="2.0" fill="#000"/>
<path d="M325.50 112.00L325.50 119.20M322.04 113.60L328.96 117.60M328.96 113.60L322.04 117.60" stroke="#000" stroke-width="1.6" stroke-linecap="round" fill="none"/><circle cx="325.50" cy="115.60" r="1.5" fill="#000"/>
<rect x="364.1" y="193.00" width="40.3" height="2.0" fill="#000"/>
<path d="M384.25 179.10L384.25 186.30M380.79 180.70L387.71 184.70M387.71 180.70L380.79 184.70" stroke="#000" stroke-width="1.6" stroke-linecap="round" fill="none"/><circle cx="384.25" cy="182.70" r="1.5" fill="#000"/>
<path d="M431.90 295.10L431.90 302.30M428.44 296.70L435.36 300.70M435.36 296.70L428.44 300.70" stroke="#000" stroke-width="1.6" stroke-linecap="round" fill="none"/><circle cx="431.90" cy="298.70" r="1.5" fill="#000"/>
<path d="M421.90 32.50L421.90 39.70M418.44 34.10L425.36 38.10M425.36 34.10L418.44 38.10" stroke="#000" stroke-width="1.6" stroke-linecap="round" fill="none"/><circle cx="421.90" cy="36.10" r="1.5" fill="#000"/>
<text x="428.0" y="47.3" font-size="12" fill="#000" stroke="#000" stroke-width="0.2" textLength="77.8" lengthAdjust="spacingAndGlyphs">p&lt;0.01 vs. -1d</text>
<text x="44.4" y="371.60" font-size="13.8" text-anchor="end" fill="#000" stroke="#000" stroke-width="0.3">0</text>
<text x="44.4" y="299.40" font-size="13.8" text-anchor="end" fill="#000" stroke="#000" stroke-width="0.3">50</text>
<text x="44.4" y="227.20" font-size="13.8" text-anchor="end" fill="#000" stroke="#000" stroke-width="0.3">100</text>
<text x="44.4" y="155.00" font-size="13.8" text-anchor="end" fill="#000" stroke="#000" stroke-width="0.3">150</text>
<text x="44.4" y="82.80" font-size="13.8" text-anchor="end" fill="#000" stroke="#000" stroke-width="0.3">200</text>
<text x="44.4" y="10.60" font-size="13.8" text-anchor="end" fill="#000" stroke="#000" stroke-width="0.3">250</text>
<text transform="translate(14.0,277.60) rotate(-90)" font-size="15.2" font-weight="bold" fill="#000" textLength="38.1" lengthAdjust="spacingAndGlyphs">fVIIIa</text>
<text transform="translate(14.0,235.90) rotate(-90)" font-size="15.2" font-weight="bold" fill="#000" textLength="93.1" lengthAdjust="spacingAndGlyphs">(%C57BL/6J,</text>
<text transform="translate(14.0,136.30) rotate(-90)" font-size="15.2" font-weight="bold" fill="#000" textLength="43.3" lengthAdjust="spacingAndGlyphs">n=10)</text>
<text x="65.20" y="386.2" font-size="9.9" fill="#000" stroke="#000" stroke-width="0.2" textLength="44.9" lengthAdjust="spacingAndGlyphs">5'UTR-SS</text>
<text x="128.00" y="386.2" font-size="9.9" fill="#000" stroke="#000" stroke-width="0.2" textLength="34.0" lengthAdjust="spacingAndGlyphs">wtVWF</text>
<text x="192.10" y="386.2" font-size="9.9" fill="#000" stroke="#000" stroke-width="0.2" textLength="25.3" lengthAdjust="spacingAndGlyphs">DPro</text>
<text x="246.40" y="386.2" font-size="9.9" fill="#000" stroke="#000" stroke-width="0.2" textLength="33.8" lengthAdjust="spacingAndGlyphs">diD'D3</text>
<text x="297.50" y="386.2" font-size="9.9" fill="#000" stroke="#000" stroke-width="0.2" textLength="49.0" lengthAdjust="spacingAndGlyphs">multiD'D3</text>
<text x="353.40" y="386.2" font-size="9.9" fill="#000" stroke="#000" stroke-width="0.2" textLength="51.8" lengthAdjust="spacingAndGlyphs">monoD'D3</text>
<text x="412.60" y="386.2" font-size="9.9" fill="#000" stroke="#000" stroke-width="0.2" textLength="50.6" lengthAdjust="spacingAndGlyphs">truncD'D3</text>
<rect x="481.7" y="121.10" width="8.2" height="8.2" fill="url(#gb)"/>
<rect x="481.7" y="121.10" width="8.2" height="8.2" fill="url(#ov2)"/>
<ellipse cx="485.8" cy="122.90" rx="2.8" ry="1.5" fill="#fff" fill-opacity="0.3"/>
<text transform="translate(493.7,129.50) scale(1.1,1)" font-size="12.7" fill="#000" stroke="#000" stroke-width="0.15">-1d</text>
<rect x="481.7" y="144.20" width="8.2" height="8.2" fill="url(#gr1)"/>
<rect x="481.7" y="144.20" width="8.2" height="8.2" fill="url(#ov2)"/>
<ellipse cx="485.8" cy="146.00" rx="2.8" ry="1.5" fill="#fff" fill-opacity="0.3"/>
<text transform="translate(493.7,152.60) scale(1.1,1)" font-size="12.7" fill="#000" stroke="#000" stroke-width="0.15">1d</text>
<rect x="481.7" y="167.30" width="8.2" height="8.2" fill="url(#gr2)"/>
<rect x="481.7" y="167.30" width="8.2" height="8.2" fill="url(#ov2)"/>
<ellipse cx="485.8" cy="169.10" rx="2.8" ry="1.5" fill="#fff" fill-opacity="0.3"/>
<text transform="translate(493.7,175.70) scale(1.1,1)" font-size="12.7" fill="#000" stroke="#000" stroke-width="0.15">3d</text>
<rect x="481.7" y="190.40" width="8.2" height="8.2" fill="url(#gr3)"/>
<rect x="481.7" y="190.40" width="8.2" height="8.2" fill="url(#ov2)"/>
<ellipse cx="485.8" cy="192.20" rx="2.8" ry="1.5" fill="#fff" fill-opacity="0.3"/>
<text transform="translate(493.7,198.80) scale(1.1,1)" font-size="12.7" fill="#000" stroke="#000" stroke-width="0.15">1wk</text>
<rect x="481.7" y="213.50" width="8.2" height="8.2" fill="url(#gr4)"/>
<rect x="481.7" y="213.50" width="8.2" height="8.2" fill="url(#ov2)"/>
<ellipse cx="485.8" cy="215.30" rx="2.8" ry="1.5" fill="#fff" fill-opacity="0.3"/>
<text transform="translate(493.7,221.90) scale(1.1,1)" font-size="12.7" fill="#000" stroke="#000" stroke-width="0.15">2wk</text>
<rect x="481.7" y="236.60" width="8.2" height="8.2" fill="url(#gr5)"/>
<rect x="481.7" y="236.60" width="8.2" height="8.2" fill="url(#ov2)"/>
<ellipse cx="485.8" cy="238.40" rx="2.8" ry="1.5" fill="#fff" fill-opacity="0.3"/>
<text transform="translate(493.7,245.00) scale(1.1,1)" font-size="12.7" fill="#000" stroke="#000" stroke-width="0.15">3wk</text>
<rect x="481.7" y="259.70" width="8.2" height="8.2" fill="url(#gr6)"/>
<rect x="481.7" y="259.70" width="8.2" height="8.2" fill="url(#ov2)"/>
<ellipse cx="485.8" cy="261.50" rx="2.8" ry="1.5" fill="#fff" fill-opacity="0.3"/>
<text transform="translate(493.7,268.10) scale(1.1,1)" font-size="12.7" fill="#000" stroke="#000" stroke-width="0.15">4wk</text>
</g></svg></body></html>
